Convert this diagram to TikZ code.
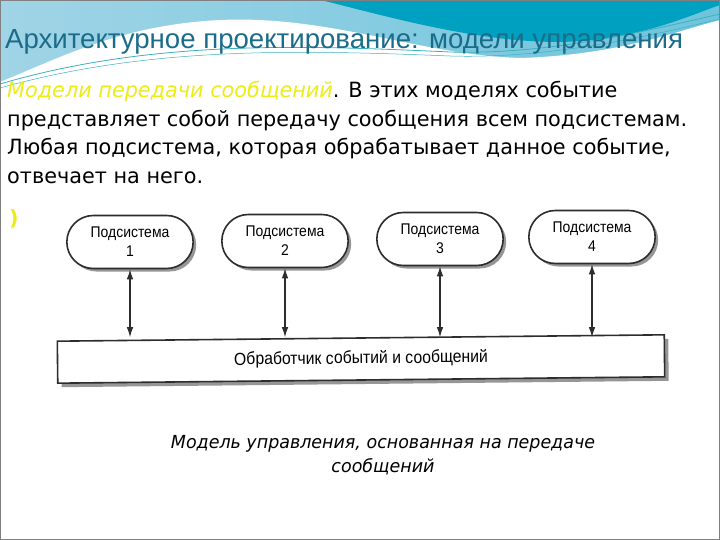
\documentclass[tikz,border=0pt]{standalone}
\usepackage{fontspec}
\setmainfont{DejaVu Sans}
\newfontfamily\titlefont{Liberation Sans}
\newfontfamily\bodyfont[FakeStretch=0.99]{DejaVu Sans}
\newfontfamily\captionfont[FakeStretch=0.97]{DejaVu Sans}
\newfontfamily\diagfont[FakeStretch=0.9]{Liberation Sans}
\usetikzlibrary{shapes.misc,shadows,arrows.meta}

\definecolor{titleteal}{RGB}{26,108,138}
\definecolor{msgyellow}{RGB}{236,236,24}
\definecolor{skylight}{RGB}{160,212,230}
\definecolor{skymid}{RGB}{110,196,220}
\definecolor{skydark}{RGB}{0,160,192}
\definecolor{waveline}{RGB}{60,178,190}
\definecolor{boxline}{RGB}{45,45,45}
\definecolor{shadowgray}{RGB}{150,150,150}

\tikzset{
  subsys/.style={rounded rectangle, draw=boxline, line width=1.6pt, fill=white,
    minimum width=133pt, minimum height=53pt, align=center,
    font=\diagfont\fontsize{15.5}{19}\selectfont,
    drop shadow={shadow xshift=3pt, shadow yshift=-3pt, fill=shadowgray, opacity=1}},
  busbox/.style={rectangle, draw=boxline, line width=1.6pt, fill=white,
    minimum width=607pt, minimum height=42pt,
    font=\diagfont\fontsize{17.5}{19}\selectfont,
    drop shadow={shadow xshift=4pt, shadow yshift=-4pt, fill=shadowgray, opacity=1}},
  link/.style={{Latex[length=10pt,width=6.5pt]}-{Latex[length=10pt,width=6.5pt]}, line width=1.1pt, draw=boxline}
}

\begin{document}
\begin{tikzpicture}[x=1pt, y=-1pt]
    \useasboundingbox (0,0) rectangle (720,540);
    % Background
    \fill[left color=skylight, right color=skymid] (0,0) rectangle (720,100);
    \fill[skydark] (321,0) .. controls (400,20) and (480,42) .. (560,42) .. controls (640,40) and (690,15) .. (720,5) -- (720,0) -- cycle;
    \fill[white] (0,100) -- (0,82) .. controls (60,58) and (120,25) .. (220,20) .. controls (330,15) and (420,55) .. (520,58) .. controls (620,55) and (680,30) .. (720,20) -- (720,540) -- (0,540) -- cycle;
    \draw[waveline, line width=0.8pt] (0,84) .. controls (150,40) and (300,45) .. (450,52) .. controls (550,55) and (650,30) .. (720,14);
    \draw[waveline, line width=0.5pt] (0,88) .. controls (150,46) and (300,50) .. (450,56) .. controls (550,59) and (650,36) .. (720,19);
    \draw[gray, line width=1pt] (0.5,0.5) rectangle (719.5,539.5);

    % Texts
    \node (title) [anchor=base west, inner sep=0pt, text=titleteal, font=\titlefont\fontsize{27.6}{30}\selectfont] at (5,49) {Архитектурное проектирование: модели управления};
    \node (intro) [anchor=north west, inner sep=0pt, align=left, font=\bodyfont\fontsize{21}{28.5}\selectfont] at (7,81)
      {{\itshape\color{msgyellow}Модели передачи сообщений}. В этих моделях событие\\
       представляет собой передачу сообщения всем подсистемам.\\
       Любая подсистема, которая обрабатывает данное событие,\\
       отвечает на него.};
    \node (paren) [text=msgyellow, font=\bodyfont\bfseries\fontsize{21}{22}\selectfont] at (14,219) {)};

    % Nodes
    \node (sub1) [subsys] at (130,242) {Подсистема\\1};
    \node (sub2) [subsys] at (285,241) {Подсистема\\2};
    \node (sub3) [subsys] at (440,239) {Подсистема\\3};
    \node (sub4) [subsys] at (592,237) {Подсистема\\4};
    \node (bus) [busbox, rotate=0.6] at (361,359) {Обработчик событий и сообщений};

    % Arrows
    \draw[link] (sub1.south) -- (sub1.south |- bus.north);
    \draw[link] (sub2.south) -- (sub2.south |- bus.north);
    \draw[link] (sub3.south) -- (sub3.south |- bus.north);
    \draw[link] (sub4.south) -- (sub4.south |- bus.north);

    % Caption
    \node (caption) [align=center, font=\captionfont\itshape\fontsize{18}{24}\selectfont] at (383,455) {Модель управления, основанная на передаче\\сообщений};
\end{tikzpicture}
\end{document}
